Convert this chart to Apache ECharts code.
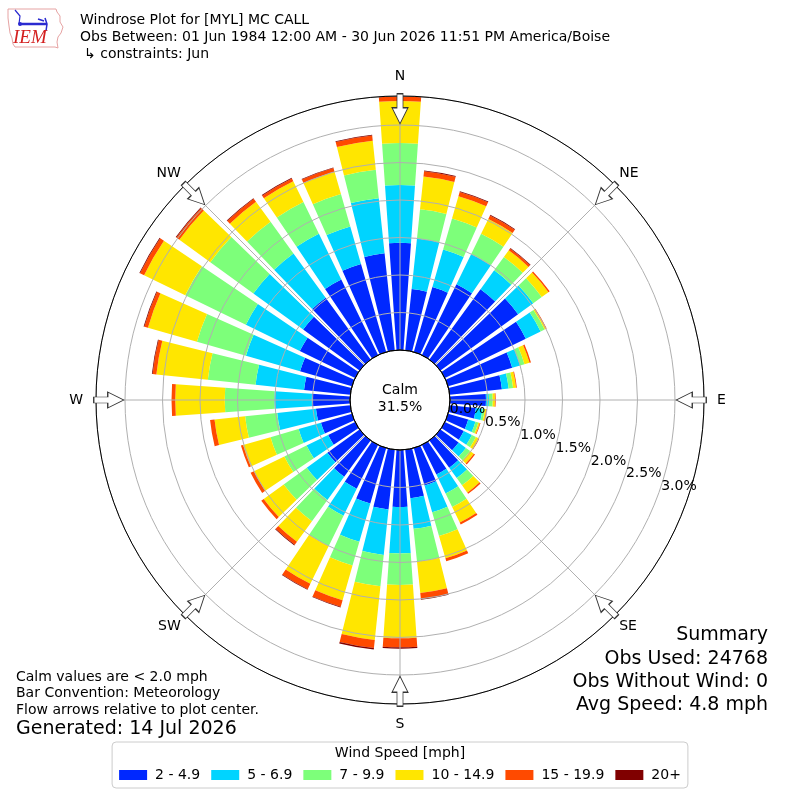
<!DOCTYPE html>
<html><head><meta charset="utf-8">
<script src="https://cdn.jsdelivr.net/npm/echarts@6/dist/echarts.min.js"></script>
<style>html,body{margin:0;padding:0;background:#fff}#c{width:800px;height:800px}</style>
</head><body><div id="c"></div>
<script>
// ---- data ----
const dirDegrees = ['0','10','20','30','40','50','60','70','80','90','100','110','120','130','140','150','160','170','180','190','200','210','220','230','240','250','260','270','280','290','300','310','320','330','340','350'];
const cardinalLabels = ['N','E','S','W'];
const cardinalAngles = [0,90,180,270];
const diagonalLabels = ['NE','SE','SW','NW'];
const diagonalAngles = [45,135,225,315];
const compassAngles = [0,45,90,135,180,225,270,315];
const speedBins = ['2 - 4.9','5 - 6.9','7 - 9.9','10 - 14.9','15 - 19.9','20+'];
const binColors = ['#0028ff','#00d4ff','#7dff7a','#ffe600','#ff4a00','#800000'];
const s2to5   = [1.43,0.82,0.90,1.05,1.16,1.28,1.20,0.89,0.70,0.48,0.35,0.28,0.28,0.30,0.45,0.44,0.52,0.65,0.76,0.80,0.77,0.65,0.60,0.53,0.40,0.43,0.46,0.51,0.62,0.72,0.82,0.93,1.02,1.12,1.22,1.30];
const s5to7   = [0.77,0.68,0.52,0.45,0.31,0.25,0.22,0.11,0.09,0.04,0.09,0.10,0.12,0.12,0.17,0.28,0.37,0.41,0.62,0.61,0.53,0.40,0.38,0.34,0.32,0.31,0.52,0.50,0.65,0.75,0.80,0.82,0.73,0.68,0.52,0.74];
const s7to10  = [0.56,0.39,0.43,0.30,0.22,0.14,0.06,0.06,0.06,0.05,0.03,0.04,0.06,0.07,0.12,0.20,0.33,0.44,0.42,0.42,0.33,0.45,0.35,0.38,0.33,0.39,0.43,0.66,0.64,0.68,0.90,0.71,0.52,0.47,0.45,0.38];
const s10to15 = [0.56,0.44,0.31,0.22,0.11,0.11,0.02,0.07,0.04,0.03,0.02,0.02,0.04,0.06,0.12,0.23,0.31,0.42,0.71,0.72,0.48,0.56,0.34,0.33,0.45,0.38,0.41,0.66,0.69,0.68,0.61,0.51,0.33,0.31,0.31,0.39];
const s15to20 = [0.06,0.07,0.06,0.05,0.03,0.02,0.01,0.02,0.01,0.01,0.01,0.01,0.01,0.02,0.02,0.03,0.04,0.08,0.12,0.11,0.09,0.08,0.05,0.04,0.05,0.03,0.06,0.05,0.05,0.05,0.06,0.05,0.05,0.04,0.05,0.07];
const s20plus = [0.01,0.01,0.01,0.01,0.01,0,0,0,0,0,0,0,0,0,0,0,0,0.01,0.02,0.02,0.01,0.01,0.01,0,0,0,0,0,0.01,0.01,0.01,0.01,0.01,0.01,0.01,0.01];
const binSeries = [s2to5, s5to7, s7to10, s10to15, s15to20, s20plus];
const calmText = 'Calm\n31.5%';
const radiusMax = 3.387;
const radiusInterval = 0.5;

// ---- layout ----
const CENTER = [400, 400];
const R_IN = 50, R_OUT = 304;
const PX_PER_UNIT = (R_OUT - R_IN) / radiusMax;
const R_FIRST = R_IN + radiusInterval * PX_PER_UNIT;
const LABEL_ANGLE = -20;
const ARROW_R = 3.217;
const FONT = 'DejaVu Sans';
const ARROW_PATH = 'path://M5,0L11,0L11,14L16,14L8,30L0,14L5,14Z';

function txt(x, y, text, size, align, extra) {
  return Object.assign({
    type: 'text', x: x, y: y, silent: true,
    style: { text: text, font: size + 'px "' + FONT + '"', fill: '#000',
      textAlign: align || 'left', align: align || 'left',
      textVerticalAlign: 'middle', verticalAlign: 'middle' }
  }, extra || {});
}
// radius labels are split over two label axes (even / odd half-steps) so none overlap
function labelAxisStyle(offset, top) {
  return { show: true, showMinLabel: true, showMaxLabel: false, margin: 8,
    fontSize: 14, color: '#000', fontFamily: FONT,
    formatter: function (v) { return v > top - 0.01 ? '' : (v + offset).toFixed(1) + '%'; } };
}

const chart = echarts.init(document.getElementById('c'));
const option = {
  animation: false,
  backgroundColor: '#fff',
  textStyle: { fontFamily: FONT },
  polar: [
    { center: CENTER, radius: [R_IN, R_OUT] },      // 0 bars
    { center: CENTER, radius: [R_IN, R_OUT] },      // 1 grid + cardinal labels
    { center: CENTER, radius: [R_FIRST, R_OUT] },   // 2 radius labels 0.5, 1.5, 2.5
    { center: CENTER, radius: [0, R_IN] },          // 3 calm circle
    { center: CENTER, radius: [R_IN, R_OUT] },      // 4 diagonal labels
    { center: CENTER, radius: [R_IN, R_OUT] }       // 5 radius labels 0.0, 1.0, 2.0, 3.0
  ],
  angleAxis: [
    { polarIndex: 0, type: 'category', data: dirDegrees, startAngle: 95, clockwise: true, boundaryGap: true,
      axisLine: { show: false }, axisTick: { show: false }, axisLabel: { show: false }, splitLine: { show: false } },
    { polarIndex: 1, type: 'value', min: 0, max: 360, interval: 45, startAngle: 90, clockwise: true, z: 6,
      axisLine: { show: true, lineStyle: { color: '#000', width: 1 } }, axisTick: { show: false },
      axisLabel: { show: true, margin: 13, fontSize: 14, color: '#000', fontFamily: FONT,
        formatter: function (v) { const i = cardinalAngles.indexOf(v); return i >= 0 ? cardinalLabels[i] : ''; } },
      splitLine: { show: true, lineStyle: { color: '#b0b0b0', width: 1 } } },
    { polarIndex: 2, type: 'value', min: 0, max: 360, startAngle: LABEL_ANGLE, show: false },
    { polarIndex: 3, type: 'value', min: 0, max: 360, startAngle: 90, z: 7,
      axisLine: { show: true, lineStyle: { color: '#000', width: 1 } }, axisTick: { show: false },
      axisLabel: { show: false }, splitLine: { show: false } },
    { polarIndex: 4, type: 'value', min: 0, max: 360, interval: 45, startAngle: 90, clockwise: true, z: 6,
      axisLine: { show: false }, axisTick: { show: false }, splitLine: { show: false },
      axisLabel: { show: true, margin: 6, fontSize: 14, color: '#000', fontFamily: FONT,
        formatter: function (v) { const i = diagonalAngles.indexOf(v); return i >= 0 ? diagonalLabels[i] : ''; } } },
    { polarIndex: 5, type: 'value', min: 0, max: 360, startAngle: LABEL_ANGLE, show: false }
  ],
  radiusAxis: [
    { polarIndex: 0, type: 'value', min: 0, max: radiusMax, show: false },
    { polarIndex: 1, type: 'value', min: 0, max: radiusMax, interval: radiusInterval, z: 5,
      axisLine: { show: false }, axisTick: { show: false }, axisLabel: { show: false },
      splitLine: { show: true, lineStyle: { color: '#b0b0b0', width: 1 } } },
    { polarIndex: 2, type: 'value', min: 0, max: radiusMax - radiusInterval, interval: 2 * radiusInterval, z: 8,
      axisLine: { show: false }, axisTick: { show: false }, splitLine: { show: false },
      axisLabel: labelAxisStyle(radiusInterval, radiusMax - radiusInterval) },
    { polarIndex: 3, type: 'value', min: 0, max: 1, show: false },
    { polarIndex: 4, type: 'value', min: 0, max: radiusMax, show: false },
    { polarIndex: 5, type: 'value', min: 0, max: radiusMax, interval: 2 * radiusInterval, z: 8,
      axisLine: { show: false }, axisTick: { show: false }, splitLine: { show: false },
      axisLabel: labelAxisStyle(0, radiusMax) }
  ],
  legend: {
    data: speedBins, left: 'center', top: 742, orient: 'horizontal', icon: 'rect',
    itemWidth: 28, itemHeight: 10, itemGap: 11, padding: [26, 7, 6, 7],
    borderColor: '#cccccc', borderWidth: 1, borderRadius: 4, selectedMode: false,
    textStyle: { fontSize: 14, color: '#000', fontFamily: FONT, padding: [0, 0, 0, 3] }
  },
  series: binSeries.map(function (arr, i) {
    return { type: 'bar', name: speedBins[i], coordinateSystem: 'polar', polarIndex: 0, stack: 'total',
      data: arr, barCategoryGap: '20%', itemStyle: { color: binColors[i] }, silent: true, z: 2 };
  }).concat([{
    type: 'scatter', coordinateSystem: 'polar', polarIndex: 1, z: 10, clip: false, silent: true,
    symbol: ARROW_PATH, symbolSize: [16, 30],
    itemStyle: { color: '#fff', borderColor: '#333', borderWidth: 1, opacity: 1 },
    data: compassAngles.map(function (a) { return { value: [ARROW_R, a], symbolRotate: -a }; })
  }]),
  graphic: [
    // logo
    { type: 'polygon', silent: true,
      shape: { points: [[8,9],[56,9],[57,12],[60,16],[60,22],[63,27],[61,33],[58,37],[57,42],[58,48],[55,47],[15,47],[13,44],[12,38],[10,33],[9,26],[8,18]] },
      style: { fill: 'none', stroke: '#e6a3a3', lineWidth: 1 } },
    { type: 'polyline', silent: true, shape: { points: [[19,24],[47,24]] }, style: { stroke: '#2a2ad0', lineWidth: 2.5 } },
    { type: 'polyline', silent: true, shape: { points: [[15,10],[20,16],[19,24]] }, style: { stroke: '#2a2ad0', lineWidth: 1.2, fill: 'none' } },
    { type: 'polyline', silent: true, shape: { points: [[45,18],[47,24],[46,31]] }, style: { stroke: '#2a2ad0', lineWidth: 1.5, fill: 'none' } },
    { type: 'polyline', silent: true, shape: { points: [[38,19],[44,21]] }, style: { stroke: '#2a2ad0', lineWidth: 1.5 } },
    { type: 'circle', silent: true, shape: { cx: 20, cy: 24, r: 2 }, style: { fill: '#2a2ad0' } },
    { type: 'text', x: 13, y: 38, silent: true,
      style: { text: 'IEM', font: 'italic 19px "Liberation Serif"', fill: '#d42020', textVerticalAlign: 'middle', verticalAlign: 'middle' } },
    // header
    txt(80, 20, 'Windrose Plot for [MYL] MC CALL', 14),
    txt(80, 37, 'Obs Between: 01 Jun 1984 12:00 AM - 30 Jun 2026 11:51 PM America/Boise', 14),
    txt(84, 54, '\u21B3 constraints: Jun', 14),
    // calm
    { type: 'text', x: 400, y: 399, silent: true, z: 20,
      style: { text: calmText, font: '14px "' + FONT + '"', fill: '#000', lineHeight: 17,
        textAlign: 'center', align: 'center', textVerticalAlign: 'middle', verticalAlign: 'middle' } },
    // bottom left
    txt(16, 677, 'Calm values are < 2.0 mph', 14),
    txt(16, 693, 'Bar Convention: Meteorology', 14),
    txt(16, 710, 'Flow arrows relative to plot center.', 14),
    txt(16, 729, 'Generated: 14 Jul 2026', 19),
    // summary
    txt(768, 635, 'Summary', 19, 'right'),
    txt(768, 659, 'Obs Used: 24768', 19, 'right'),
    txt(768, 682, 'Obs Without Wind: 0', 19, 'right'),
    txt(768, 705, 'Avg Speed: 4.8 mph', 19, 'right'),
    // legend title
    txt(400, 753, 'Wind Speed [mph]', 14, 'center')
  ]
};
chart.setOption(option);
</script>
</body></html>
